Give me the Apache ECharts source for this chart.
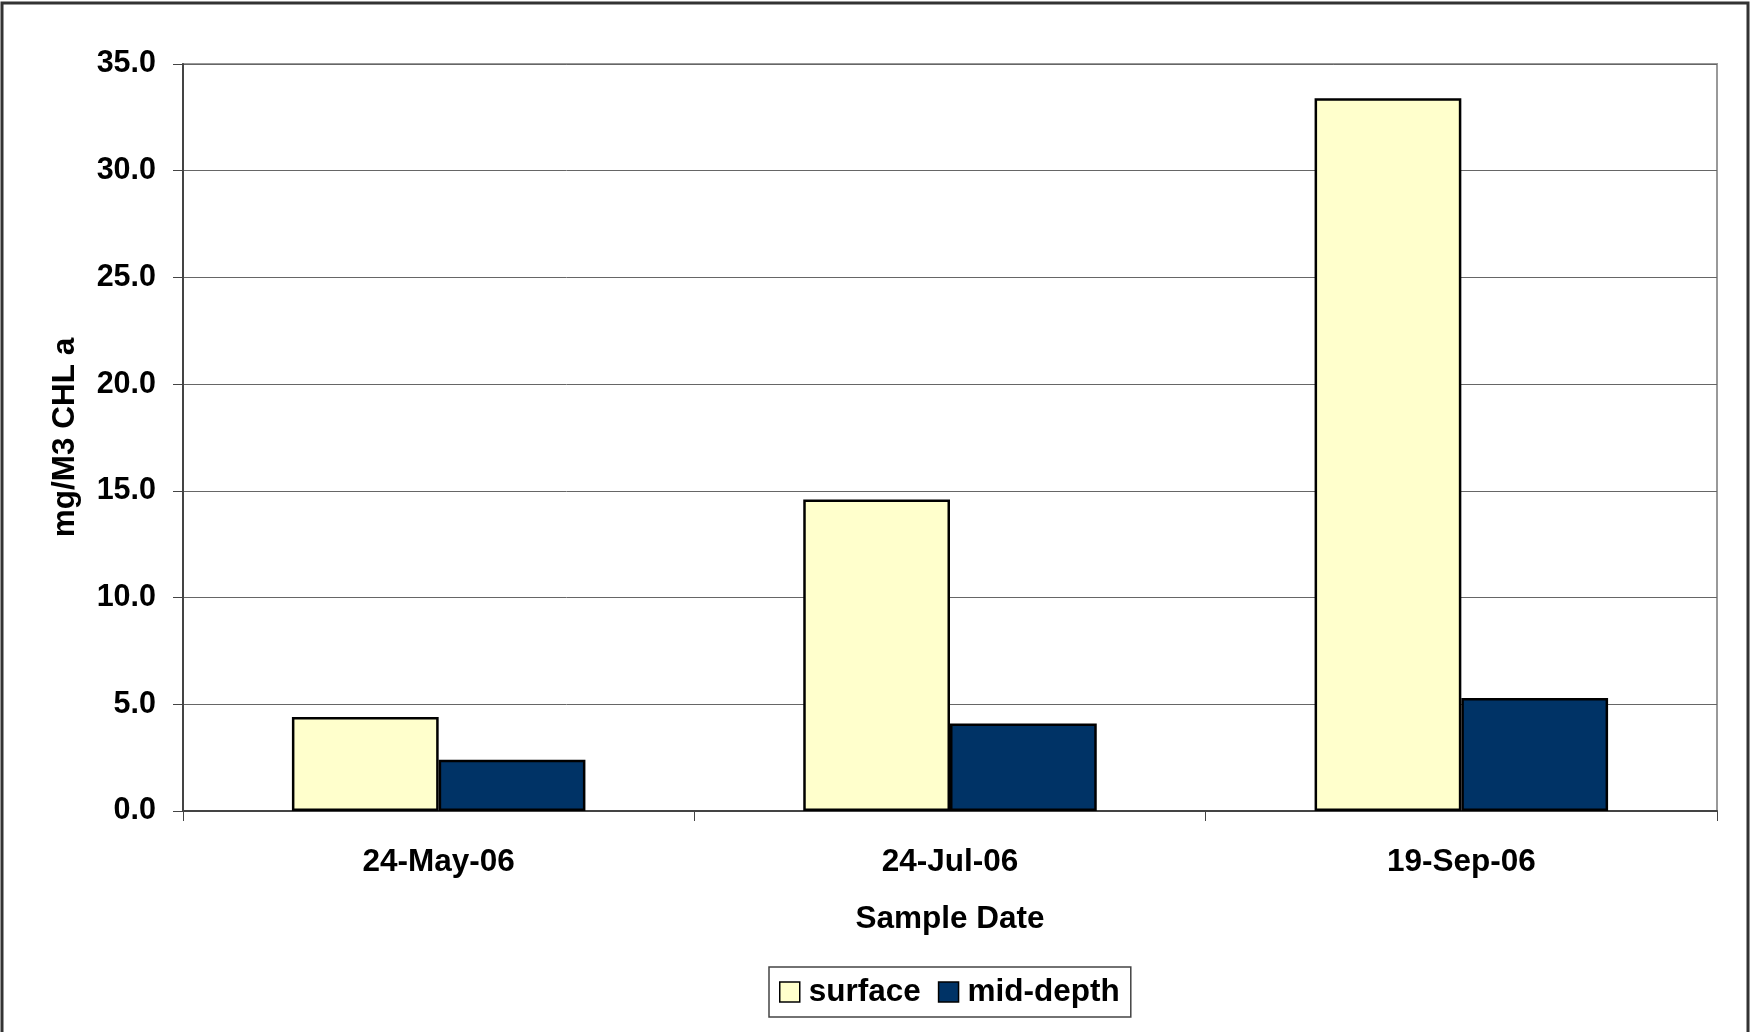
<!DOCTYPE html>
<html>
<head>
<meta charset="utf-8">
<title>Chlorophyll a by sample date</title>
<script src="https://cdn.jsdelivr.net/npm/echarts@6/dist/echarts.min.js"></script>
<style>
  html, body { margin: 0; padding: 0; background: #fff; }
  #chart { width: 1750px; height: 1032px; }
</style>
</head>
<body>
<div id="chart"></div>
<script>
// Sample dates and chlorophyll a concentrations (mg/M3)
const categories = ['24-May-06', '24-Jul-06', '19-Sep-06'];
const surface = [4.4, 14.6, 33.4];
const midDepth = [2.4, 4.1, 5.3];
const yTicks = { min: 0, max: 35, step: 5 };

const FONT = '"Liberation Sans", Arial, Helvetica, sans-serif';
const TEXT = { fontFamily: FONT, fontSize: 31.5, fontWeight: 'bold', color: '#000' };
const chart = echarts.init(document.getElementById('chart'), null, { renderer: 'canvas' });

const barBorder = { borderColor: '#000', borderWidth: 2.5 };

chart.setOption({
  animation: false,
  backgroundColor: '#fff',
  textStyle: { fontFamily: FONT },
  graphic: [{
    type: 'rect',
    shape: { x: 2, y: 3, width: 1746, height: 1040 },
    style: { fill: 'none', stroke: '#333', lineWidth: 3 },
    silent: true
  }],
  grid: {
    left: 183, right: 33, top: 64, bottom: 221,
    show: true, borderColor: '#999', borderWidth: 2, backgroundColor: '#fff'
  },
  legend: {
    data: ['surface', 'mid-depth'],
    left: 769, top: 967,
    icon: 'rect',
    itemWidth: 20, itemHeight: 20, itemGap: 17,
    padding: [8, 11, 8, 10],
    borderColor: '#444', borderWidth: 1.5,
    textStyle: Object.assign({}, TEXT, { lineHeight: 34, padding: [0, 0, 0, 4] }),
    itemStyle: { borderColor: '#000', borderWidth: 1.5 }
  },
  xAxis: {
    type: 'category',
    data: categories,
    name: 'Sample Date',
    nameLocation: 'middle',
    nameGap: 92,
    nameTextStyle: TEXT,
    axisLine: { lineStyle: { color: '#444', width: 2 } },
    axisTick: { show: true, alignWithLabel: false, length: 10, lineStyle: { color: '#444', width: 1 } },
    axisLabel: Object.assign({}, TEXT, { margin: 35 }),
    splitLine: { show: false }
  },
  yAxis: {
    type: 'value',
    min: yTicks.min, max: yTicks.max, interval: yTicks.step,
    name: 'mg/M3 CHL a',
    nameLocation: 'middle',
    nameGap: 102,
    nameRotate: 90,
    nameTextStyle: TEXT,
    axisLine: { show: true, lineStyle: { color: '#444', width: 2 } },
    axisTick: { show: true, length: 10, lineStyle: { color: '#444', width: 1 } },
    axisLabel: Object.assign({}, TEXT, {
      fontSize: 30.5, margin: 27,
      formatter: v => v.toFixed(1)
    }),
    splitLine: { show: true, lineStyle: { color: '#666', width: 1 } }
  },
  series: [
    {
      name: 'surface', type: 'bar', data: surface,
      barGap: '0%', barCategoryGap: '42.6%',
      itemStyle: Object.assign({ color: '#FFFFCC' }, barBorder)
    },
    {
      name: 'mid-depth', type: 'bar', data: midDepth,
      barGap: '0%', barCategoryGap: '42.6%',
      itemStyle: Object.assign({ color: '#003366' }, barBorder)
    }
  ]
});
</script>
</body>
</html>
